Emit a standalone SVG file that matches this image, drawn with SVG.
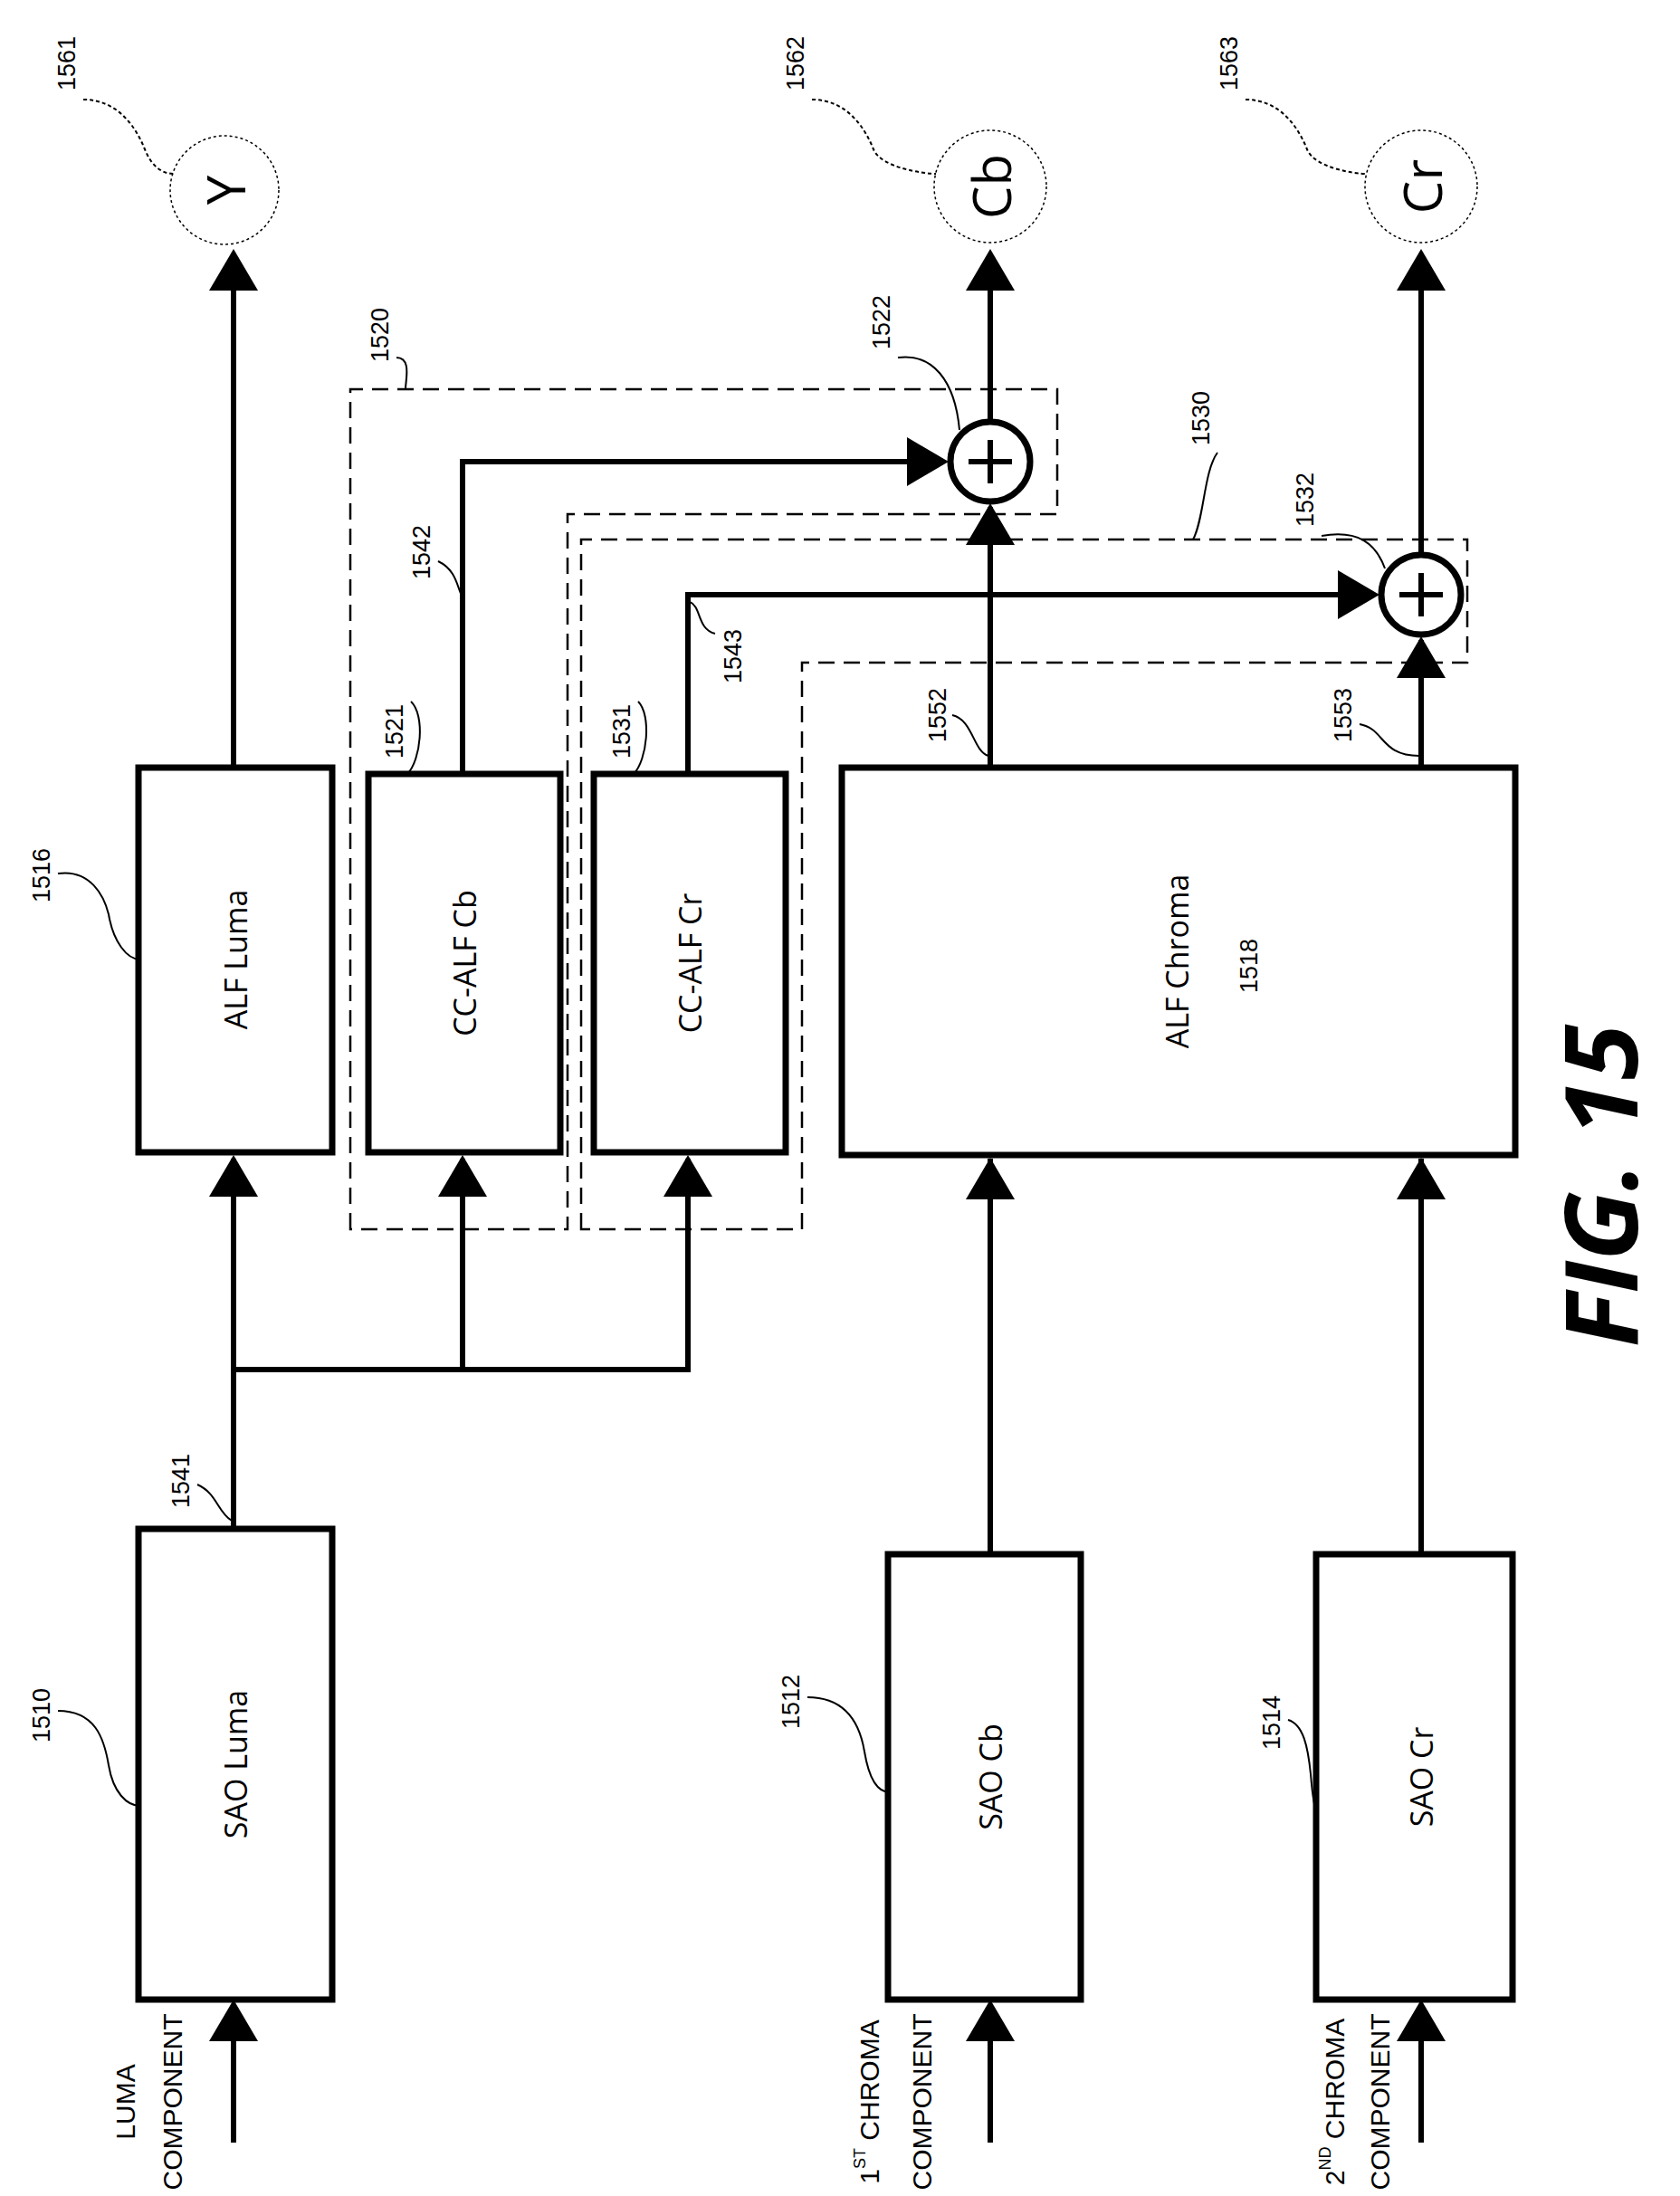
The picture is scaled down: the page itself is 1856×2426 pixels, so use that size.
<svg xmlns="http://www.w3.org/2000/svg" width="1856" height="2426" viewBox="0 0 1856 2426">
<style>
.box{fill:#fff;stroke:#000;stroke-width:7}
.ln{fill:none;stroke:#000;stroke-width:6}
.dash{fill:none;stroke:#000;stroke-width:2.5;stroke-dasharray:18 10}
.ld{fill:none;stroke:#000;stroke-width:2}
.ah{fill:#000}
.t{font-family:"Open Sans","Liberation Sans",sans-serif;font-size:34px;text-anchor:middle;dominant-baseline:central}
.n{font-family:"Liberation Sans",sans-serif;font-size:27px;text-anchor:middle;dominant-baseline:central}
.o{font-family:"Open Sans","Liberation Sans",sans-serif;font-size:58px;text-anchor:middle;dominant-baseline:central}
.c{font-family:"Liberation Sans",sans-serif;font-size:30px;text-anchor:middle;dominant-baseline:central}
</style>
<defs>
<path id="up" d="M0,0 L-27,46 L27,46 Z"/>
<path id="rt" d="M0,0 L-46,-27 L-46,27 Z"/>
</defs>
<rect width="1856" height="2426" fill="#fff"/>
<g id="groups">
<path class="dash" d="M387,1358 V430 H1168 V568 H627 V1358 Z"/>
<path class="dash" d="M642,1358 V596 H1621 V732 H886 V1358 Z"/>
</g>
<g id="connectors">
<path class="ln" d="M258,2367 V2215"/><use href="#up" x="258" y="2209" class="ah"/>
<path class="ln" d="M1094,2367 V2215"/><use href="#up" x="1094" y="2209" class="ah"/>
<path class="ln" d="M1570,2367 V2215"/><use href="#up" x="1570" y="2209" class="ah"/>
<path class="ln" d="M258,1689 V1280"/><use href="#up" x="258" y="1276" class="ah"/>
<path class="ln" d="M258,1513 H760 V1280 M511,1513 V1280"/>
<use href="#up" x="511" y="1276" class="ah"/><use href="#up" x="760" y="1276" class="ah"/>
<path class="ln" d="M1094,1717 V1280"/><use href="#up" x="1094" y="1279" class="ah"/>
<path class="ln" d="M1570,1717 V1280"/><use href="#up" x="1570" y="1279" class="ah"/>
<path class="ln" d="M258,848 V280"/><use href="#up" x="258" y="275" class="ah"/>
<path class="ln" d="M511,855 V510 H1040"/><use href="#rt" x="1048" y="510" class="ah"/>
<path class="ln" d="M760,855 V657 H1518"/><use href="#rt" x="1524" y="657" class="ah"/>
<path class="ln" d="M1094,848 V560"/><use href="#up" x="1094" y="556" class="ah"/>
<path class="ln" d="M1570,848 V707"/><use href="#up" x="1570" y="703" class="ah"/>
<path class="ln" d="M1094,464 V280"/><use href="#up" x="1094" y="275" class="ah"/>
<path class="ln" d="M1570,611 V280"/><use href="#up" x="1570" y="275" class="ah"/>
</g>
<g id="sum1522"><circle cx="1094" cy="510" r="44" fill="#fff" stroke="#000" stroke-width="7"/><path class="ln" d="M1070,510 H1118 M1094,486 V534"/></g>
<g id="sum1532"><circle cx="1570" cy="657" r="44" fill="#fff" stroke="#000" stroke-width="7"/><path class="ln" d="M1546,657 H1594 M1570,633 V681"/></g>
<g id="outY"><circle cx="248" cy="210" r="60" fill="none" stroke="#000" stroke-width="1.5" stroke-dasharray="3 3"/><text class="o" transform="translate(248,210) rotate(-90)">Y</text></g>
<g id="outCb"><circle cx="1094" cy="206" r="62" fill="none" stroke="#000" stroke-width="1.5" stroke-dasharray="3 3"/><text class="o" transform="translate(1094,206) rotate(-90)">Cb</text></g>
<g id="outCr"><circle cx="1570" cy="206" r="62" fill="none" stroke="#000" stroke-width="1.5" stroke-dasharray="3 3"/><text class="o" transform="translate(1570,206) rotate(-90)">Cr</text></g>
<g id="n1516"><rect class="box" x="153" y="848" width="214" height="425"/><text class="t" transform="translate(260,1060) rotate(-90)">ALF Luma</text></g>
<g id="n1510"><rect class="box" x="153" y="1689" width="214" height="520"/><text class="t" transform="translate(260,1949) rotate(-90)">SAO Luma</text></g>
<g id="n1521"><rect class="box" x="407" y="855" width="212" height="418"/><text class="t" transform="translate(513,1064) rotate(-90)">CC-ALF Cb</text></g>
<g id="n1531"><rect class="box" x="656" y="855" width="212" height="418"/><text class="t" transform="translate(762,1064) rotate(-90)">CC-ALF Cr</text></g>
<g id="n1518"><rect class="box" x="930" y="848" width="744" height="428"/><text class="t" transform="translate(1300,1062) rotate(-90)">ALF Chroma</text><text class="n" transform="translate(1380,1067) rotate(-90)">1518</text></g>
<g id="n1512"><rect class="box" x="981" y="1717" width="213" height="492"/><text class="t" transform="translate(1094,1963) rotate(-90)">SAO Cb</text></g>
<g id="n1514"><rect class="box" x="1454" y="1717" width="217" height="492"/><text class="t" transform="translate(1570,1963) rotate(-90)">SAO Cr</text></g>
<g id="inputs">
<text class="c" transform="translate(138,2322) rotate(-90)">LUMA</text>
<text class="c" transform="translate(190,2322) rotate(-90)">COMPONENT</text>
<text class="c" transform="translate(960,2322) rotate(-90)">1<tspan font-size="18" dy="-10">ST</tspan><tspan dy="10"> CHROMA</tspan></text>
<text class="c" transform="translate(1018,2322) rotate(-90)">COMPONENT</text>
<text class="c" transform="translate(1474,2322) rotate(-90)">2<tspan font-size="18" dy="-10">ND</tspan><tspan dy="10"> CHROMA</tspan></text>
<text class="c" transform="translate(1524,2322) rotate(-90)">COMPONENT</text>
</g>
<g id="labels">
<text class="n" transform="translate(74,70) rotate(-90)">1561</text>
<path class="ld" stroke-dasharray="4 3" d="M92,110 C130,110 150,140 160,165 C168,185 180,192 192,192"/>
<text class="n" transform="translate(879,70) rotate(-90)">1562</text>
<path class="ld" stroke-dasharray="4 3" d="M897,110 C935,110 955,140 965,165 C973,185 1020,192 1034,192"/>
<text class="n" transform="translate(1358,70) rotate(-90)">1563</text>
<path class="ld" stroke-dasharray="4 3" d="M1376,110 C1414,110 1434,140 1444,165 C1452,185 1495,192 1510,192"/>
<text class="n" transform="translate(420,370) rotate(-90)">1520</text>
<path class="ld" d="M438,395 C455,395 448,420 448,430"/>
<text class="n" transform="translate(974,356) rotate(-90)">1522</text>
<path class="ld" d="M992,395 C1030,390 1055,420 1060,475"/>
<text class="n" transform="translate(1327,462) rotate(-90)">1530</text>
<path class="ld" d="M1345,500 C1330,520 1330,575 1318,596"/>
<text class="n" transform="translate(1442,552) rotate(-90)">1532</text>
<path class="ld" d="M1460,592 C1500,585 1520,600 1530,628"/>
<text class="n" transform="translate(466,610) rotate(-90)">1542</text>
<path class="ld" d="M484,620 C505,630 505,650 511,660"/>
<text class="n" transform="translate(436,808) rotate(-90)">1521</text>
<path class="ld" d="M454,775 C470,790 465,840 450,855"/>
<text class="n" transform="translate(687,808) rotate(-90)">1531</text>
<path class="ld" d="M705,775 C720,790 715,840 700,855"/>
<text class="n" transform="translate(810,725) rotate(-90)">1543</text>
<path class="ld" d="M790,700 C770,695 775,670 762,665"/>
<text class="n" transform="translate(1036,790) rotate(-90)">1552</text>
<path class="ld" d="M1052,790 C1075,795 1075,830 1092,835"/>
<text class="n" transform="translate(1484,790) rotate(-90)">1553</text>
<path class="ld" d="M1502,800 C1530,805 1525,835 1568,835"/>
<text class="n" transform="translate(46,967) rotate(-90)">1516</text>
<path class="ld" d="M64,965 C100,960 115,990 120,1010 C125,1040 140,1060 155,1060"/>
<text class="n" transform="translate(200,1636) rotate(-90)">1541</text>
<path class="ld" d="M218,1640 C240,1650 240,1670 256,1680"/>
<text class="n" transform="translate(46,1895) rotate(-90)">1510</text>
<path class="ld" d="M64,1890 C105,1890 115,1920 120,1950 C125,1980 140,1995 155,1995"/>
<text class="n" transform="translate(874,1880) rotate(-90)">1512</text>
<path class="ld" d="M892,1875 C935,1875 950,1905 955,1935 C960,1965 970,1980 983,1980"/>
<text class="n" transform="translate(1405,1903) rotate(-90)">1514</text>
<path class="ld" d="M1423,1900 C1440,1905 1445,1930 1448,1960 C1450,1985 1452,2000 1456,2005"/>
</g>
<text transform="translate(1765,1310) rotate(-90)" font-family="'Open Sans','Liberation Sans',sans-serif" font-size="112" font-weight="bold" font-style="italic" text-anchor="middle" dominant-baseline="central">FIG. 15</text>
</svg>
